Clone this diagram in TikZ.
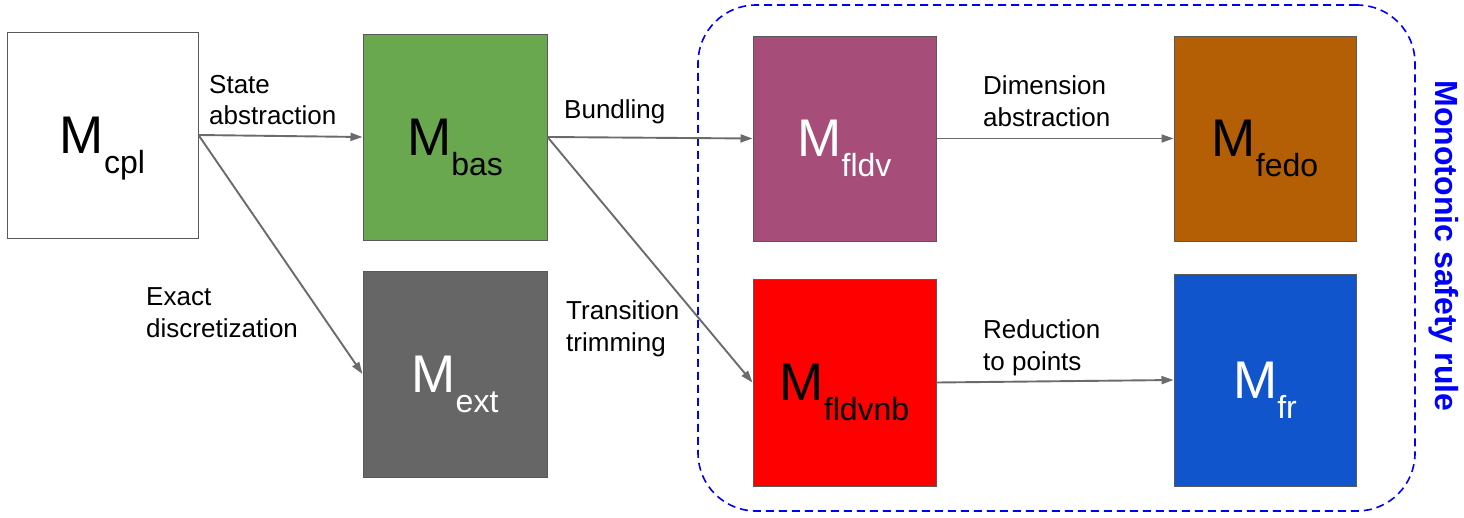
\documentclass[tikz,border=0pt]{standalone}
\usepackage{fontspec}
\setmainfont{Liberation Sans}
\usetikzlibrary{arrows.meta}
\definecolor{boxgray}{HTML}{595959}
\definecolor{arrgray}{HTML}{6B6B6B}
\definecolor{cgreen}{HTML}{6AA84F}
\definecolor{cdark}{HTML}{666666}
\definecolor{cpurple}{HTML}{A64D79}
\definecolor{cbrown}{HTML}{B45F06}
\definecolor{cred}{HTML}{FF0000}
\definecolor{cblue}{HTML}{1155CC}
\definecolor{rulblue}{HTML}{0000FF}
\newcommand{\Mlab}[1]{{\fontsize{53}{53}\selectfont M}\raisebox{-20pt}{\fontsize{32}{32}\selectfont #1}}
\tikzset{
  mbox/.style={draw=boxgray, line width=1pt, inner sep=0pt},
  mtext/.style={anchor=base, yshift=-18pt, inner sep=0pt},
  arr/.style={draw=arrgray, line width=1.9pt, -{Triangle[length=12pt,width=8pt]}, shorten >=0pt},
  elab/.style={anchor=base west, align=left, inner sep=0pt, font=\fontsize{26}{31.5}\selectfont},
  region/.style={draw=rulblue, line width=1.6pt, dash pattern=on 8pt off 5pt, rounded corners=58pt, inner sep=0pt}
}
\begin{document}
\begin{tikzpicture}[x=1pt,y=-1pt]
\useasboundingbox (0,0) rectangle (1464,517);
% region
\node[region, minimum width=717pt, minimum height=506pt] (reg) at (1056.5,258) {};
% boxes
\node[mbox, fill=white, minimum width=191pt, minimum height=206pt] (cpl) at (102.5,135) {};
\node[mbox, fill=cgreen, minimum width=184pt, minimum height=206pt] (bas) at (455,137) {};
\node[mbox, fill=cdark, minimum width=184pt, minimum height=206pt] (ext) at (455,374) {};
\node[mbox, fill=cpurple, minimum width=183pt, minimum height=205pt] (fldv) at (844.5,138.5) {};
\node[mbox, fill=cbrown, minimum width=182pt, minimum height=205pt] (fedo) at (1265,138.5) {};
\node[mbox, fill=cred, minimum width=183pt, minimum height=207pt] (fldvnb) at (844.5,382.5) {};
\node[mbox, fill=cblue, minimum width=182pt, minimum height=212pt] (fr) at (1265,380) {};
% box labels
\node[mtext, text=black] (tcpl) at (cpl.center) {\Mlab{cpl}};
\node[mtext, text=black] (tbas) at (bas.center) {\Mlab{bas}};
\node[mtext, text=white] (text) at (ext.center) {\Mlab{ext}};
\node[mtext, text=white] (tfldv) at (fldv.center) {\Mlab{fldv}};
\node[mtext, text=black] (tfedo) at (fedo.center) {\Mlab{fedo}};
\node[mtext, text=black] (tfldvnb) at (fldvnb.center) {\Mlab{fldvnb}};
\node[mtext, text=white] (tfr) at (fr.center) {\Mlab{fr}};
% arrows
\draw[arr] (cpl.east) -- (bas.west);
\draw[arr] (cpl.east) -- (ext.west);
\draw[arr] (bas.east) -- (fldv.west);
\draw[arr] (bas.east) -- (fldvnb.west);
\draw[arr] (fldv.east) -- (fedo.west);
\draw[arr] (fldvnb.east) -- (fr.west);
% edge labels (anchor is the baseline of the last line)
\node[elab] (l1) at (209,124.5) {State\\abstraction};
\node[elab] (l2) at (146,337) {Exact\\discretization};
\node[elab] (l3) at (564,118) {Bundling};
\node[elab] (l4) at (566,351) {Transition\\trimming};
\node[elab] (l5) at (983,126) {Dimension\\abstraction};
\node[elab] (l6) at (983,370) {Reduction\\to points};
% side label
\node[rotate=-90, text=rulblue, inner sep=0pt, font=\fontsize{32}{32}\selectfont\bfseries] (rule) at (1444,246) {Monotonic safety rule};
\end{tikzpicture}
\end{document}
